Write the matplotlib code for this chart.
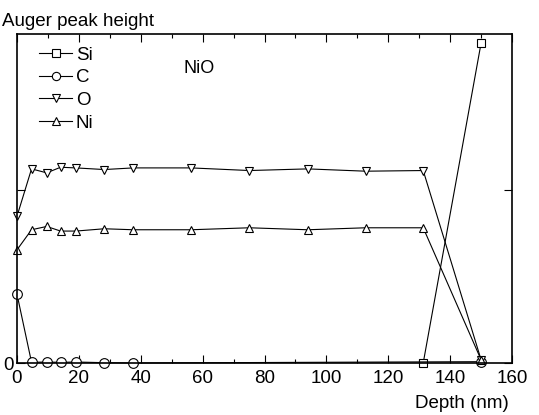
import matplotlib
matplotlib.use("Agg")
import matplotlib.pyplot as plt
from matplotlib.ticker import MultipleLocator

plt.rcParams['font.family'] = ['Liberation Sans', 'DejaVu Sans']

# depth (nm) and peak heights (arbitrary units)
depth = [0, 4.7, 9.6, 14.1, 19.0, 28.2, 37.6, 56.2, 75.1, 94.0, 112.7, 131.3, 150]
o_vals = [44.6, 59.0, 57.8, 59.5, 59.3, 58.8, 59.3, 59.3, 58.5, 59.0, 58.3, 58.5, 1.0]
ni_vals = [34.4, 40.5, 41.5, 40.1, 40.1, 40.8, 40.5, 40.5, 41.1, 40.5, 41.1, 41.1, 1.0]
c_depth = [0, 4.7, 9.6, 14.1, 19.0, 28.2, 37.6, 150]
c_vals = [20.9, 0.2, 0.3, 0.2, 0.3, 0.1, 0.0, 0.4]
si_depth = [131.3, 150]
si_vals = [0.0, 97.2]

fig = plt.figure(figsize=(5.39, 4.15), dpi=100)
ax = fig.add_axes([17 / 539, 1 - 363 / 415, (512 - 17) / 539, (363 - 34) / 415])

style = dict(color='black', lw=0.8, mfc='white', mec='black', ms=6, mew=0.8, clip_on=False)
ax.plot(si_depth, si_vals, marker='s', label='Si', **style)
ax.plot(c_depth, c_vals, marker='o', label='C', **dict(style, ms=7))
ax.plot(depth, o_vals, marker='v', label='O', **style)
ax.plot(depth, ni_vals, marker='^', label='Ni', **style)

ax.set_xlim(0, 160)
ax.set_ylim(0, 100)
ax.xaxis.set_major_locator(MultipleLocator(20))
ax.xaxis.set_minor_locator(MultipleLocator(10))
ax.set_yticks([0, 52.5])
ax.set_yticklabels(['0', ''])
ax.tick_params(which='both', direction='in', top=True, right=True, labelsize=13.5)
ax.tick_params(axis='x', pad=5)
ax.tick_params(axis='y', pad=2)
ax.tick_params(which='major', length=6, width=0.8)
ax.tick_params(which='minor', length=3, width=0.8)
for s in ax.spines.values():
    s.set_linewidth(1.2)

ax.text(2 / 539, 1 - 21 / 415, 'Auger peak height', transform=fig.transFigure,
        fontsize=13.5, va='center', ha='left')
ax.text(509 / 539, 1 - 403 / 415, 'Depth (nm)', transform=fig.transFigure,
        fontsize=13.5, va='center', ha='right')
ax.text(53.7, 89.4, 'NiO', fontsize=13, va='center', ha='left')

leg = ax.legend(loc='upper left', frameon=False, fontsize=13.5, handlelength=1.75,
                handletextpad=0.2, labelspacing=0.3, borderaxespad=0.0,
                bbox_to_anchor=(0.03, 0.985), markerscale=0.85)

fig.savefig('out.png', dpi=100)
